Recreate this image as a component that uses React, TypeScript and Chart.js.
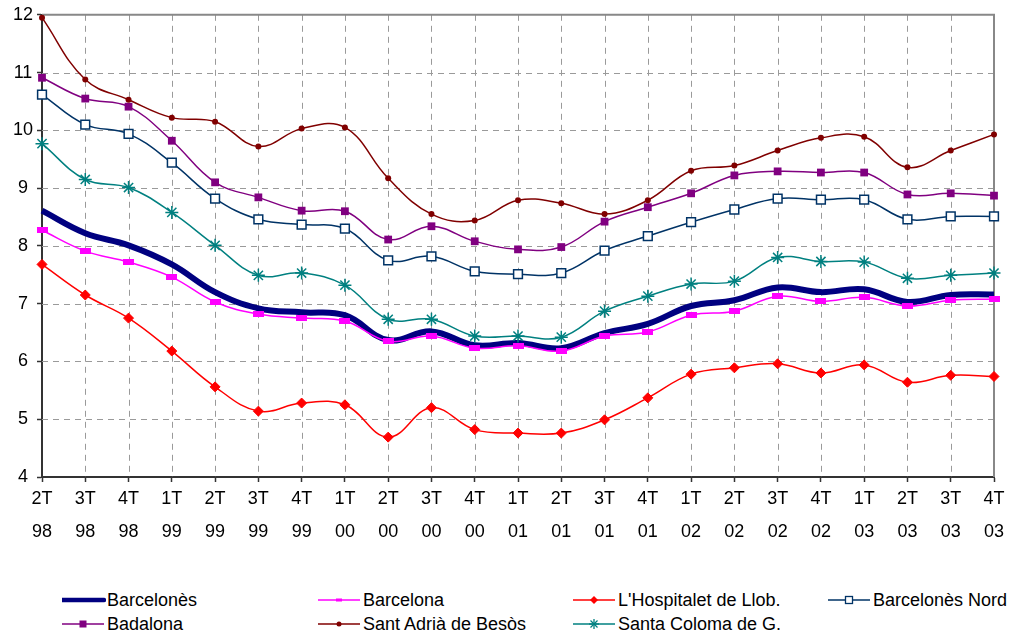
import React, { useEffect, useRef } from "react";
import { Chart, registerables } from "chart.js";

Chart.register(...registerables);

const quarters = ["2T", "3T", "4T", "1T", "2T", "3T", "4T", "1T", "2T", "3T", "4T", "1T", "2T", "3T", "4T", "1T", "2T", "3T", "4T", "1T", "2T", "3T", "4T"];
const years = ["98", "98", "98", "99", "99", "99", "99", "00", "00", "00", "00", "01", "01", "01", "01", "02", "02", "02", "02", "03", "03", "03", "03"];

const barcelones = [8.61, 8.22, 8.01, 7.68, 7.2, 6.92, 6.85, 6.8, 6.37, 6.52, 6.28, 6.32, 6.23, 6.49, 6.65, 6.96, 7.06, 7.28, 7.2, 7.25, 7.03, 7.15, 7.16];
const barcelona = [8.27, 7.91, 7.72, 7.46, 7.03, 6.82, 6.75, 6.7, 6.35, 6.44, 6.23, 6.27, 6.18, 6.44, 6.51, 6.8, 6.87, 7.13, 7.04, 7.11, 6.96, 7.06, 7.08];
const hospitalet = [7.68, 7.15, 6.75, 6.18, 5.56, 5.14, 5.28, 5.25, 4.69, 5.2, 4.82, 4.76, 4.76, 4.99, 5.37, 5.78, 5.89, 5.96, 5.8, 5.94, 5.64, 5.76, 5.74];
const barcelonesNord = [10.62, 10.1, 9.94, 9.44, 8.82, 8.46, 8.37, 8.3, 7.75, 7.82, 7.56, 7.51, 7.53, 7.92, 8.17, 8.41, 8.63, 8.82, 8.8, 8.8, 8.46, 8.51, 8.51];
const badalona = [10.91, 10.55, 10.41, 9.82, 9.1, 8.84, 8.61, 8.6, 8.11, 8.34, 8.08, 7.94, 7.98, 8.42, 8.67, 8.91, 9.22, 9.29, 9.27, 9.27, 8.89, 8.91, 8.87];
const santAdria = [11.95, 10.88, 10.53, 10.22, 10.15, 9.72, 10.03, 10.05, 9.17, 8.55, 8.44, 8.79, 8.74, 8.55, 8.79, 9.3, 9.39, 9.65, 9.87, 9.89, 9.36, 9.65, 9.93];
const santaColoma = [9.77, 9.15, 9.01, 8.58, 8.01, 7.49, 7.53, 7.32, 6.73, 6.73, 6.44, 6.44, 6.42, 6.87, 7.13, 7.34, 7.39, 7.8, 7.73, 7.72, 7.44, 7.49, 7.53];

const yTicks = [4, 5, 6, 7, 8, 9, 10, 11, 12];

const FONT = "'Liberation Sans', Arial, sans-serif";

function rectImage(w: number, h: number, color: string) {
  const c = document.createElement("canvas");
  c.width = w;
  c.height = h;
  const g = c.getContext("2d")!;
  g.fillStyle = color;
  g.fillRect(0, 0, w, h);
  return c;
}

// dashed grid (drawn from the chart's own scales) + grey top/right frame
const frame = {
  id: "frame",
  beforeDatasetsDraw(chart: any) {
    const { ctx, chartArea, scales } = chart;
    const { left, right, top, bottom } = chartArea;
    const xs = scales.x;
    const ys = scales.y;
    ctx.save();
    ctx.strokeStyle = "#9a9a9a";
    ctx.lineWidth = 1;
    ctx.setLineDash([6, 5]);
    for (let i = 1; i < xs.ticks.length - 1; i++) {
      const px = Math.round(xs.getPixelForTick(i)) + 0.5;
      ctx.beginPath();
      ctx.moveTo(px, top);
      ctx.lineTo(px, bottom);
      ctx.stroke();
    }
    for (let i = 1; i < yTicks.length - 1; i++) {
      const py = Math.round(ys.getPixelForValue(yTicks[i])) + 0.5;
      ctx.beginPath();
      ctx.moveTo(left, py);
      ctx.lineTo(right, py);
      ctx.stroke();
    }
    ctx.setLineDash([]);
    ctx.strokeStyle = "#888888";
    ctx.lineWidth = 2;
    ctx.beginPath();
    ctx.moveTo(left, top);
    ctx.lineTo(right, top);
    ctx.lineTo(right, bottom);
    ctx.stroke();
    ctx.restore();
  },
};

type LegendItem = { label: string; color: string; width: number; marker: string; x: number; y: number };

const legendItems: LegendItem[] = [
  { label: "Barcelonès", color: "#000080", width: 4.5, marker: "none", x: 62, y: 600 },
  { label: "Barcelona", color: "#FF00FF", width: 1.5, marker: "hrect", x: 318, y: 600 },
  { label: "L'Hospitalet de Llob.", color: "#FF0000", width: 1.5, marker: "diamond", x: 573, y: 600 },
  { label: "Barcelonès Nord", color: "#003366", width: 1.5, marker: "open", x: 828, y: 600 },
  { label: "Badalona", color: "#800080", width: 1.5, marker: "square", x: 62, y: 624 },
  { label: "Sant Adrià de Besòs", color: "#800000", width: 1.5, marker: "circle", x: 318, y: 624 },
  { label: "Santa Coloma de G.", color: "#008080", width: 1.5, marker: "star", x: 573, y: 624 },
];

function Marker({ m, color }: { m: string; color: string }) {
  const cx = 21, cy = 8;
  if (m === "hrect") return <rect x={cx - 3} y={cy - 1.5} width={6} height={3} fill={color} />;
  if (m === "diamond") return <polygon points={`${cx},${cy - 4} ${cx + 4},${cy} ${cx},${cy + 4} ${cx - 4},${cy}`} fill={color} />;
  if (m === "open") return <rect x={cx - 3.5} y={cy - 3.5} width={7} height={7} fill="#fff" stroke={color} strokeWidth={1.3} />;
  if (m === "square") return <rect x={cx - 3.5} y={cy - 3.5} width={7} height={7} fill={color} />;
  if (m === "circle") return <circle cx={cx} cy={cy} r={2.5} fill={color} />;
  if (m === "star")
    return (
      <g stroke={color} strokeWidth={1.3}>
        <line x1={cx - 5} y1={cy} x2={cx + 5} y2={cy} />
        <line x1={cx} y1={cy - 5} x2={cx} y2={cy + 5} />
        <line x1={cx - 3.5} y1={cy - 3.5} x2={cx + 3.5} y2={cy + 3.5} />
        <line x1={cx - 3.5} y1={cy + 3.5} x2={cx + 3.5} y2={cy - 3.5} />
      </g>
    );
  return null;
}

export default function App() {
  const ref = useRef<HTMLCanvasElement | null>(null);

  useEffect(() => {
    if (!ref.current) return;
    const labels = quarters.map((q, i) => [q, years[i]]);
    const common = {
      tension: 0.4,
      fill: false,
      clip: false as any,
      pointBorderWidth: 1.5,
    };
    const gridOpts = {
      drawOnChartArea: false,
      drawTicks: true,
      tickLength: 5,
      tickColor: "#333333",
      tickWidth: 1.5,
    };
    const chart = new Chart(ref.current, {
      type: "line",
      data: {
        labels,
        datasets: [
          { ...common, label: "Barcelonès", data: barcelones, borderColor: "#000080", backgroundColor: "#000080", borderWidth: 6, pointRadius: 0, order: 7 },
          { ...common, label: "Barcelona", data: barcelona, borderColor: "#FF00FF", backgroundColor: "#FF00FF", borderWidth: 1.5, pointStyle: rectImage(11, 6, "#FF00FF") as any, pointRadius: 5, order: 6 },
          { ...common, label: "L'Hospitalet de Llob.", data: hospitalet, borderColor: "#FF0000", backgroundColor: "#FF0000", borderWidth: 1.5, pointStyle: "rectRot", pointRadius: 5, pointBorderWidth: 1, order: 5 },
          { ...common, label: "Barcelonès Nord", data: barcelonesNord, borderColor: "#003366", pointBackgroundColor: "#FFFFFF", pointBorderColor: "#003366", backgroundColor: "#FFFFFF", borderWidth: 1.5, pointStyle: "rect", pointRadius: 6.2, pointBorderWidth: 1.5, order: 4 },
          { ...common, label: "Badalona", data: badalona, borderColor: "#800080", backgroundColor: "#800080", borderWidth: 1.5, pointStyle: "rect", pointRadius: 5.5, pointBorderWidth: 0, order: 3 },
          { ...common, label: "Sant Adrià de Besòs", data: santAdria, borderColor: "#800000", backgroundColor: "#800000", borderWidth: 1.5, pointStyle: "circle", pointRadius: 3, pointBorderWidth: 0, order: 2 },
          { ...common, label: "Santa Coloma de G.", data: santaColoma, borderColor: "#008080", backgroundColor: "#008080", borderWidth: 1.5, pointStyle: "star", pointRadius: 6.5, pointBorderWidth: 1.5, order: 1 },
        ],
      },
      options: {
        animation: false,
        responsive: true,
        maintainAspectRatio: false,
        layout: { padding: { top: 14, right: 16, left: 0, bottom: 0 } },
        plugins: { legend: { display: false }, tooltip: { enabled: false } },
        scales: {
          x: {
            offset: false,
            afterFit: (s: any) => {
              s.height = 98;
            },
            grid: gridOpts as any,
            border: { display: true, color: "#333333", width: 2 } as any,
            ticks: {
              autoSkip: false,
              maxRotation: 0,
              minRotation: 0,
              padding: 0,
              color: "#000000",
              font: { family: FONT, size: 18, lineHeight: 1.85 },
            },
          },
          y: {
            min: 4,
            max: 12,
            afterFit: (s: any) => {
              s.width = 42;
            },
            afterBuildTicks: (s: any) => {
              s.ticks = yTicks.map((v) => ({ value: v }));
            },
            grid: gridOpts as any,
            border: { display: true, color: "#333333", width: 2 } as any,
            ticks: {
              stepSize: 1,
              padding: 4,
              crossAlign: "center",
              color: "#000000",
              font: { family: FONT, size: 18 },
            },
          },
        },
      },
      plugins: [frame],
    });
    return () => chart.destroy();
  }, []);

  return (
    <div style={{ position: "absolute", left: 0, top: 0, width: 1010, height: 635, background: "#fff", fontFamily: FONT }}>
      <div style={{ position: "absolute", left: 0, top: 0, width: 1010, height: 575 }}>
        <canvas ref={ref} />
      </div>
      {legendItems.map((it) => (
        <div
          key={it.label}
          style={{ position: "absolute", left: it.x, top: it.y - 11, height: 22, display: "flex", alignItems: "center", whiteSpace: "nowrap", fontSize: 18, color: "#000" }}
        >
          <svg width={44} height={16} style={{ display: "block", marginRight: 1 }}>
            <line x1={0} y1={8} x2={42} y2={8} stroke={it.color} strokeWidth={it.width} strokeLinecap={it.marker === "none" ? "round" : "butt"} />
            <Marker m={it.marker} color={it.color} />
          </svg>
          <span>{it.label}</span>
        </div>
      ))}
    </div>
  );
}
